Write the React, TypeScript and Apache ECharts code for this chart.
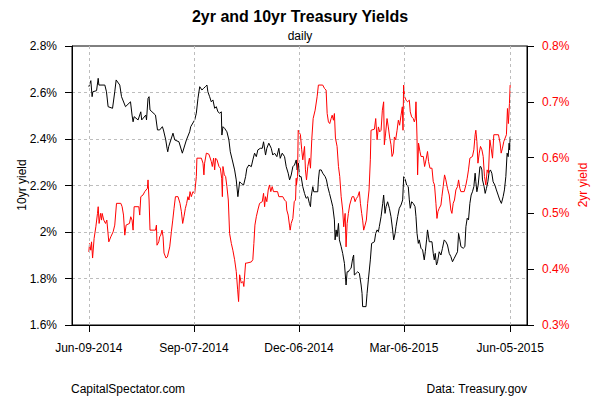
import React, { useEffect, useRef } from "react";
import * as echarts from "echarts";

// x positions: days since Jun-09-2014
const tickDays = [0, 90, 180, 270, 361];
const tickLabels = ["Jun-09-2014", "Sep-07-2014", "Dec-06-2014", "Mar-06-2015", "Jun-05-2015"];

const leftTicks = [1.6, 1.8, 2.0, 2.2, 2.4, 2.6, 2.8];
const rightTicks = [0.3, 0.4, 0.5, 0.6, 0.7, 0.8];

// 10yr Treasury yield (%)
const days10 = [
  0, 1.7, 2.8, 3.4, 6.6, 8.0, 8.6, 13.7, 15.1, 16.5, 20.3, 22.2, 23.4, 26.5, 28.0, 31.4, 35.7, 37.0, 37.9, 38.8,
  42.2, 44.5, 45.3, 48.8, 49.4, 50.7, 51.6, 52.4, 57.1, 58.8, 60.7, 63.0, 63.9, 65.9, 67.0, 67.6, 68.4, 72.1, 73.6, 77.2,
  80.1, 83.6, 86.4, 87.3, 90.7, 92.1, 93.5, 95.0, 96.9, 98.4, 99.8, 101.2, 102.0, 103.5, 104.9, 106.3, 107.8, 109.2, 110.6, 112.1,
  113.5, 114.0, 114.9, 116.3, 118.3, 120.0, 121.2, 122.9, 124.9, 126.3, 127.7, 129.2, 130.6, 132.6, 134.3, 135.4, 137.1, 139.2, 140.5, 142.0,
  143.5, 144.8, 146.9, 148.6, 149.7, 151.4, 152.5, 154.2, 156.3, 157.6, 159.1, 161.1, 162.8, 164.0, 165.7, 167.7, 169.1, 170.8, 172.0, 173.4,
  174.8, 176.2, 177.7, 178.5, 179.6, 180.5, 181.9, 183.3, 184.8, 186.2, 187.6, 189.0, 189.9, 190.5, 191.9, 192.7, 196.1, 196.7, 197.6, 199.1,
  200.4, 202.5, 203.6, 204.7, 206.2, 207.6, 209.0, 210.4, 211.0, 211.9, 212.7, 213.9, 214.7, 216.2, 217.5, 219.0, 220.4, 221.3, 222.4, 223.3,
  224.7, 226.1, 226.9, 227.5, 229.0, 230.4, 231.8, 233.3, 234.1, 234.6, 237.5, 238.4, 239.5, 241.2, 242.3, 244.7, 245.8, 247.0, 248.1, 248.9,
  250.4, 251.8, 252.6, 253.8, 254.7, 256.0, 257.5, 258.9, 260.3, 261.2, 262.4, 263.2, 264.6, 266.0, 267.5, 268.9, 269.8, 271.2, 272.3, 273.7,
  274.6, 275.4, 276.6, 278.0, 279.5, 280.3, 281.2, 282.3, 283.1, 284.6, 286.0, 287.4, 288.3, 289.4, 290.2, 291.7, 294.0, 295.1, 296.0, 296.8,
  297.9, 298.8, 300.2, 301.7, 303.0, 304.5, 305.9, 307.3, 308.8, 310.2, 311.6, 313.1, 314.5, 315.9, 316.8, 317.9, 318.8, 320.8, 322.2, 323.1,
  324.2, 325.3, 326.5, 327.6, 328.7, 329.9, 331.0, 331.6, 332.5, 333.6, 335.1, 335.9, 336.8, 337.3, 338.7, 339.6, 340.7, 341.9, 343.0, 344.1,
  345.3, 346.4, 347.9, 349.2, 350.7, 352.1, 353.5, 355.0, 356.1, 357.3, 358.4, 359.3, 360.1, 360.6, 361.0,
];
const yield10 = [
  2.625, 2.651, 2.582, 2.603, 2.608, 2.661, 2.632, 2.632, 2.603, 2.539, 2.532, 2.603, 2.654, 2.632, 2.582, 2.539, 2.56, 2.503, 2.474, 2.496,
  2.482, 2.517, 2.482, 2.503, 2.482, 2.575, 2.582, 2.525, 2.503, 2.439, 2.439, 2.453, 2.439, 2.396, 2.36, 2.345, 2.367, 2.425, 2.396, 2.388,
  2.339, 2.396, 2.431, 2.453, 2.482, 2.511, 2.575, 2.625, 2.611, 2.618, 2.625, 2.632, 2.603, 2.582, 2.56, 2.568, 2.532, 2.539, 2.517, 2.511,
  2.517, 2.417, 2.453, 2.446, 2.431, 2.396, 2.345, 2.31, 2.267, 2.224, 2.152, 2.216, 2.209, 2.202, 2.238, 2.274, 2.288, 2.281, 2.31, 2.339,
  2.324, 2.353, 2.36, 2.36, 2.388, 2.331, 2.36, 2.382, 2.36, 2.331, 2.339, 2.324, 2.36, 2.317, 2.339, 2.324, 2.281, 2.253, 2.224, 2.245,
  2.281, 2.288, 2.31, 2.267, 2.296, 2.238, 2.238, 2.195, 2.166, 2.145, 2.152, 2.123, 2.109, 2.152, 2.195, 2.173, 2.173, 2.224, 2.267, 2.267,
  2.253, 2.238, 2.224, 2.195, 2.166, 2.138, 2.109, 2.052, 1.966, 2.009, 1.98, 2.037, 1.966, 1.937, 1.908, 1.865, 1.772, 1.829, 1.829, 1.837,
  1.844, 1.887, 1.901, 1.815, 1.822, 1.829, 1.822, 1.772, 1.736, 1.679, 1.679, 1.736, 1.794, 1.88, 1.951, 1.958, 1.994, 2.009, 2.001, 2.023,
  2.066, 2.123, 2.159, 2.08, 2.109, 2.13, 2.102, 2.066, 2.009, 1.966, 1.994, 2.023, 2.066, 2.102, 2.116, 2.138, 2.238, 2.224, 2.202, 2.195,
  2.138, 2.102, 2.13, 2.123, 2.109, 2.066, 1.994, 1.951, 1.966, 1.93, 1.923, 1.88, 1.915, 1.966, 2.009, 1.958, 1.958, 1.908, 1.88, 1.908,
  1.858, 1.872, 1.915, 1.901, 1.93, 1.966, 1.958, 1.944, 1.908, 1.894, 1.872, 1.887, 1.901, 1.915, 1.994, 1.966, 1.937, 1.93, 1.937, 2.023,
  2.059, 2.052, 2.123, 2.159, 2.173, 2.195, 2.253, 2.216, 2.173, 2.202, 2.281, 2.281, 2.267, 2.224, 2.195, 2.166, 2.188, 2.216, 2.259, 2.267,
  2.253, 2.216, 2.202, 2.181, 2.159, 2.138, 2.123, 2.152, 2.181, 2.238, 2.339, 2.324, 2.382, 2.353, 2.41,
];

// 2yr Treasury yield (%)
const days2 = [
  0, 0.6, 1.7, 2.3, 3.2, 4.5, 6.0, 7.4, 8.0, 8.8, 10.0, 10.9, 11.4, 12.8, 14.3, 15.4, 17.1, 18.8, 20.8, 22.2,
  23.7, 27.4, 28.5, 29.7, 30.8, 31.9, 34.8, 35.9, 37.0, 37.9, 38.8, 42.8, 43.6, 44.5, 46.4, 47.9, 50.2, 50.7, 51.6, 52.4,
  57.1, 57.9, 58.4, 59.9, 60.7, 61.6, 62.7, 63.6, 64.4, 66.1, 67.3, 69.3, 70.7, 71.9, 73.0, 74.2, 76.4, 78.1, 79.3, 80.4,
  81.5, 82.7, 83.8, 84.9, 85.8, 86.7, 87.8, 89.2, 90.7, 92.1, 92.6, 96.4, 97.8, 98.6, 99.2, 100.7, 102.9, 104.9, 105.8, 106.9,
  107.8, 108.6, 109.8, 111.5, 112.7, 113.8, 114.4, 114.9, 116.1, 117.2, 118.3, 119.5, 120.6, 122.1, 123.4, 124.9, 126.3, 127.5, 128.3, 129.2,
  130.6, 132.0, 132.8, 134.3, 135.4, 139.2, 140.5, 141.4, 142.3, 143.5, 144.8, 146.3, 148.6, 149.7, 150.6, 151.4, 152.5, 153.7, 154.8, 155.9,
  157.1, 158.2, 161.7, 162.8, 166.2, 167.7, 169.1, 169.6, 170.8, 171.9, 172.5, 173.4, 174.8, 176.0, 177.1, 177.7, 177.9, 178.8, 179.4, 181.3,
  182.4, 183.3, 184.8, 185.6, 186.5, 187.6, 189.0, 189.9, 191.0, 192.2, 193.9, 195.6, 196.7, 200.4, 201.9, 203.3, 204.2, 205.3, 206.4, 207.6,
  208.5, 209.6, 210.4, 211.3, 212.7, 213.9, 215.0, 216.2, 217.5, 218.4, 219.6, 220.4, 221.3, 222.4, 223.5, 224.7, 225.6, 227.0, 228.1, 229.3,
  230.4, 231.8, 232.7, 233.8, 234.6, 235.5, 236.7, 237.8, 238.9, 240.1, 241.2, 241.8, 244.7, 245.8, 247.0, 248.1, 249.2, 250.4, 251.5, 252.6,
  253.2, 254.3, 255.5, 256.6, 257.7, 258.9, 259.8, 260.9, 261.8, 262.9, 264.1, 265.2, 266.3, 267.5, 268.6, 269.2, 269.7, 270.6, 271.8, 273.1,
  274.6, 275.4, 276.6, 278.0, 278.9, 279.7, 280.3, 281.2, 281.7, 282.5, 283.7, 284.6, 286.6, 287.7, 288.9, 290.2, 291.1, 292.3, 294.0, 295.1,
  296.2, 297.4, 298.3, 299.1, 300.2, 301.7, 302.5, 303.6, 304.8, 305.9, 307.3, 308.8, 310.2, 311.1, 312.2, 313.3, 314.5, 315.9, 316.8, 317.9,
  318.8, 321.6, 323.1, 324.2, 325.3, 326.5, 328.7, 329.9, 331.0, 331.6, 332.5, 333.4, 334.5, 335.6, 336.8, 337.9, 339.0, 340.2, 341.3, 342.4,
  343.6, 344.7, 345.9, 347.0, 351.0, 352.4, 353.3, 354.4, 355.6, 356.7, 357.8, 358.7, 359.5, 360.4, 361.0,
];
const yield2 = [
  0.431, 0.446, 0.434, 0.449, 0.42, 0.455, 0.476, 0.5, 0.512, 0.482, 0.5, 0.488, 0.5, 0.488, 0.482, 0.488, 0.449, 0.458, 0.467, 0.479,
  0.518, 0.518, 0.512, 0.497, 0.461, 0.479, 0.482, 0.494, 0.488, 0.47, 0.512, 0.512, 0.497, 0.53, 0.533, 0.539, 0.545, 0.56, 0.524, 0.47,
  0.47, 0.479, 0.443, 0.449, 0.458, 0.461, 0.47, 0.458, 0.429, 0.42, 0.422, 0.44, 0.467, 0.488, 0.509, 0.53, 0.53, 0.518, 0.503, 0.482,
  0.494, 0.509, 0.518, 0.53, 0.524, 0.539, 0.53, 0.539, 0.536, 0.566, 0.599, 0.599, 0.59, 0.569, 0.59, 0.608, 0.606, 0.593, 0.584, 0.599,
  0.578, 0.599, 0.596, 0.584, 0.581, 0.563, 0.53, 0.584, 0.569, 0.566, 0.548, 0.524, 0.464, 0.446, 0.434, 0.417, 0.396, 0.363, 0.342, 0.39,
  0.375, 0.378, 0.369, 0.411, 0.411, 0.413, 0.417, 0.446, 0.479, 0.494, 0.506, 0.518, 0.521, 0.536, 0.512, 0.53, 0.521, 0.542, 0.551, 0.539,
  0.548, 0.539, 0.539, 0.53, 0.53, 0.524, 0.521, 0.506, 0.497, 0.479, 0.47, 0.482, 0.491, 0.521, 0.524, 0.563, 0.551, 0.566, 0.649, 0.641,
  0.614, 0.596, 0.62, 0.578, 0.56, 0.584, 0.599, 0.581, 0.632, 0.67, 0.685, 0.709, 0.73, 0.73, 0.724, 0.721, 0.679, 0.664, 0.661, 0.67,
  0.676, 0.667, 0.679, 0.635, 0.62, 0.584, 0.566, 0.53, 0.506, 0.476, 0.5, 0.44, 0.482, 0.5, 0.515, 0.524, 0.53, 0.53, 0.521, 0.527,
  0.53, 0.539, 0.518, 0.5, 0.488, 0.47, 0.479, 0.488, 0.518, 0.542, 0.596, 0.649, 0.651, 0.67, 0.632, 0.655, 0.646, 0.649, 0.685, 0.7,
  0.623, 0.644, 0.67, 0.655, 0.637, 0.623, 0.602, 0.608, 0.637, 0.632, 0.649, 0.667, 0.658, 0.676, 0.691, 0.649, 0.73, 0.709, 0.703, 0.7,
  0.703, 0.682, 0.673, 0.67, 0.664, 0.67, 0.7, 0.635, 0.569, 0.626, 0.611, 0.602, 0.602, 0.584, 0.596, 0.611, 0.593, 0.581, 0.581, 0.557,
  0.551, 0.518, 0.491, 0.503, 0.509, 0.515, 0.53, 0.548, 0.569, 0.56, 0.545, 0.533, 0.506, 0.5, 0.518, 0.524, 0.542, 0.548, 0.56, 0.545,
  0.539, 0.539, 0.551, 0.563, 0.578, 0.599, 0.602, 0.614, 0.641, 0.649, 0.629, 0.59, 0.608, 0.62, 0.614, 0.602, 0.566, 0.551, 0.578, 0.572,
  0.632, 0.617, 0.599, 0.641, 0.641, 0.626, 0.608, 0.617, 0.629, 0.635, 0.641, 0.688, 0.661, 0.697, 0.73,
];

const FONT = "'Liberation Sans', Arial, Helvetica, sans-serif";
const GRID_COLOR = "#bdbdbd";
const pct = (v: number) => `${+Number(v).toFixed(1)}%`;

export default function App() {
  const ref = useRef<HTMLDivElement>(null);

  useEffect(() => {
    if (!ref.current) return;
    const chart = echarts.init(ref.current, null, { renderer: "svg" });
    const span = tickDays[tickDays.length - 1] - tickDays[0];
    const pad = span * 0.04;
    const gridLine = () => ({ color: GRID_COLOR, type: [3, 3] as any, width: 1 });

    chart.setOption({
      animation: false,
      backgroundColor: "#fff",
      textStyle: { fontFamily: FONT },
      grid: {
        left: 72,
        right: 73,
        top: 46,
        bottom: 75,
        show: true,
        borderColor: "#000",
        borderWidth: 1,
        containLabel: false,
      },
      xAxis: {
        type: "value",
        min: tickDays[0] - pad,
        max: tickDays[tickDays.length - 1] + pad,
        axisLine: { show: true, onZero: false, lineStyle: { color: "#000", width: 1 } },
        axisTick: { show: true, customValues: tickDays, length: 7, inside: false, lineStyle: { color: "#000" } },
        axisLabel: {
          customValues: tickDays,
          margin: 17,
          fontSize: 12,
          color: "#000",
          fontFamily: FONT,
          formatter: (v: number) => {
            const i = tickDays.findIndex((d) => Math.abs(d - v) < 0.5);
            return i >= 0 ? tickLabels[i] : "";
          },
        },
        splitLine: { show: false },
      },
      yAxis: [
        {
          type: "value",
          min: leftTicks[0],
          max: leftTicks[leftTicks.length - 1],
          interval: 0.2,
          position: "left",
          axisLine: { show: true, onZero: false, lineStyle: { color: "#000" } },
          axisTick: { show: true, length: 7, inside: false, lineStyle: { color: "#000" } },
          axisLabel: { margin: 15, fontSize: 12, color: "#000", fontFamily: FONT, formatter: pct },
          splitLine: { show: true, showMinLine: false, showMaxLine: false, lineStyle: gridLine() },
        },
        {
          type: "value",
          min: rightTicks[0],
          max: rightTicks[rightTicks.length - 1],
          interval: 0.1,
          position: "right",
          axisLine: { show: true, onZero: false, lineStyle: { color: "#000" } },
          axisTick: { show: true, length: 7, inside: false, lineStyle: { color: "#000" } },
          axisLabel: { margin: 15, fontSize: 12, color: "#ff0000", fontFamily: FONT, formatter: pct },
          splitLine: { show: false },
        },
      ],
      graphic: [
        {
          type: "text",
          x: 300,
          y: 16,
          style: {
            text: "2yr and 10yr Treasury Yields",
            fontSize: 16,
            fontWeight: "bold",
            fontFamily: FONT,
            fill: "#000",
            textAlign: "center",
            textVerticalAlign: "middle",
          },
        },
        {
          type: "text",
          x: 300,
          y: 36,
          style: { text: "daily", fontSize: 12, fontFamily: FONT, fill: "#000", textAlign: "center", textVerticalAlign: "middle" },
        },
        {
          type: "text",
          x: 22,
          y: 185,
          rotation: Math.PI / 2,
          style: { text: "10yr yield", fontSize: 12, fontFamily: FONT, fill: "#000", textAlign: "center", textVerticalAlign: "middle" },
        },
        {
          type: "text",
          x: 583,
          y: 185,
          rotation: Math.PI / 2,
          style: { text: "2yr yield", fontSize: 12, fontFamily: FONT, fill: "#ff0000", textAlign: "center", textVerticalAlign: "middle" },
        },
        {
          type: "text",
          x: 71,
          y: 389,
          style: { text: "CapitalSpectator.com", fontSize: 12, fontFamily: FONT, fill: "#000", textAlign: "left", textVerticalAlign: "middle" },
        },
        {
          type: "text",
          x: 527,
          y: 389,
          style: { text: "Data: Treasury.gov", fontSize: 12, fontFamily: FONT, fill: "#000", textAlign: "right", textVerticalAlign: "middle" },
        },
      ],
      series: [
        {
          name: "gridlines",
          type: "line",
          yAxisIndex: 0,
          data: [],
          silent: true,
          z: 1,
          markLine: {
            silent: true,
            symbol: ["none", "none"],
            label: { show: false },
            lineStyle: gridLine(),
            data: tickDays.map((d) => ({ xAxis: d, lineStyle: gridLine() })),
          },
        },
        {
          name: "10yr yield",
          type: "line",
          yAxisIndex: 0,
          data: days10.map((d, i) => [d, yield10[i]]),
          symbol: "none",
          showSymbol: false,
          lineStyle: { color: "#000", width: 1 },
          itemStyle: { color: "#000" },
          z: 3,
        },
        {
          name: "2yr yield",
          type: "line",
          yAxisIndex: 1,
          data: days2.map((d, i) => [d, yield2[i]]),
          symbol: "none",
          showSymbol: false,
          lineStyle: { color: "#ff0000", width: 1 },
          itemStyle: { color: "#ff0000" },
          z: 4,
        },
      ],
    });

    return () => chart.dispose();
  }, []);

  return (
    <div
      ref={ref}
      style={{ position: "fixed", left: 0, top: 0, width: 600, height: 400, background: "#fff" }}
    />
  );
}
